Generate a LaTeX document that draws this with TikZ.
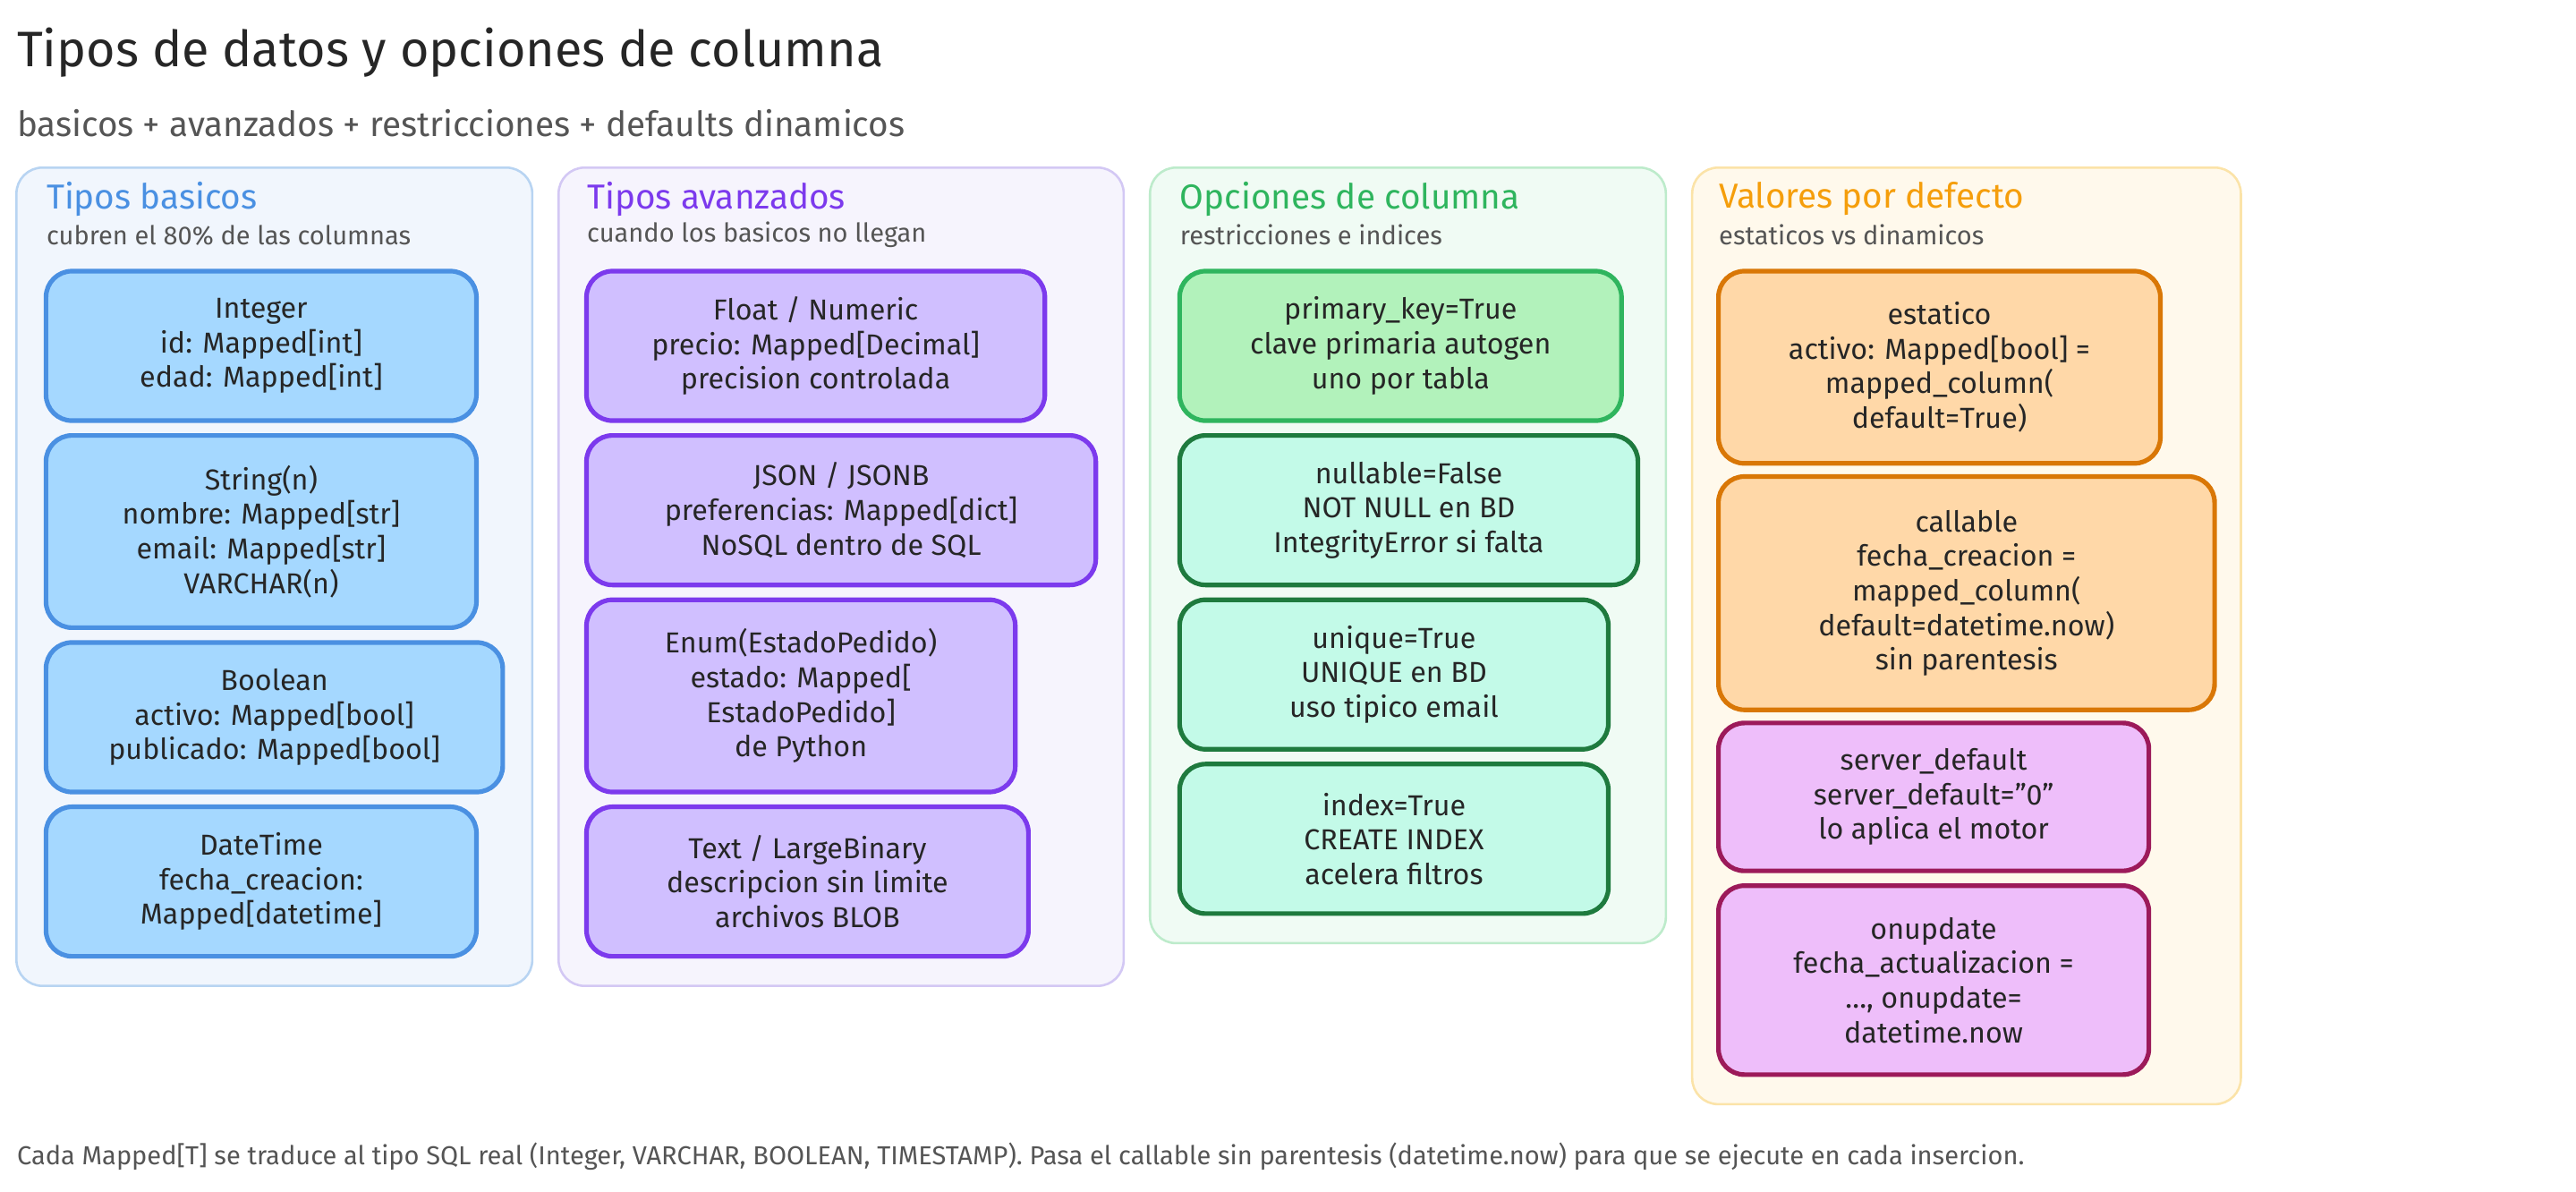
\documentclass[tikz,border=0pt]{standalone}
\usepackage{fontspec}
\setmainfont{Fira Sans}
\usetikzlibrary{positioning}
\definecolor{bluefill}{HTML}{A5D8FF}
\definecolor{blueline}{HTML}{4A90E2}
\definecolor{bluepanel}{HTML}{F1F6FD}
\definecolor{bluepanelline}{HTML}{B8D4F2}
\definecolor{purfill}{HTML}{D0BFFF}
\definecolor{purline}{HTML}{7C3AED}
\definecolor{purpanel}{HTML}{F6F4FD}
\definecolor{purpanelline}{HTML}{D3C8F4}
\definecolor{grnfill}{HTML}{B2F2BB}
\definecolor{grnline}{HTML}{2FB55E}
\definecolor{tealfill}{HTML}{C3FAE8}
\definecolor{dkgrn}{HTML}{1E7A3E}
\definecolor{grnpanel}{HTML}{F0FBF4}
\definecolor{grnpanelline}{HTML}{BDEBCB}
\definecolor{orgfill}{HTML}{FFD8A8}
\definecolor{orgline}{HTML}{D97706}
\definecolor{orgtitle}{HTML}{F59E0B}
\definecolor{orgpanel}{HTML}{FFF9EC}
\definecolor{orgpanelline}{HTML}{FBE3A8}
\definecolor{pinkfill}{HTML}{EEBEFA}
\definecolor{pinkline}{HTML}{9C1A5A}
\definecolor{txtgray}{HTML}{555555}
\tikzset{
  panel/.style={draw=#1, line width=0.8pt, rounded corners=9pt},
  card/.style 2 args={draw=#2, fill=#1, line width=1.6pt, rounded corners=9pt,
    align=center, font=\normalsize, text=black!85},
  ptitle/.style={anchor=west, inner sep=0pt, font=\large, text=#1},
  psub/.style={anchor=west, inner sep=0pt, font=\small, text=txtgray},
}
\begin{document}
\begin{tikzpicture}[x=0.02cm, y=-0.02cm]
  \useasboundingbox (0,0) rectangle (1568,725);
  % Heading
  \node[anchor=west, inner sep=0pt, font=\LARGE, text=black!85] (title) at (10,32) {Tipos de datos y opciones de columna};
  \node[anchor=west, inner sep=0pt, font=\large, text=txtgray] (subtitle) at (10,75) {basicos + avanzados + restricciones + defaults dinamicos};
  % Panels
  \draw[panel=bluepanelline, fill=bluepanel] (10,102) rectangle (324,600);
  \draw[panel=purpanelline, fill=purpanel] (340,102) rectangle (684,600);
  \draw[panel=grnpanelline, fill=grnpanel] (700,102) rectangle (1014,574);
  \draw[panel=orgpanelline, fill=orgpanel] (1030,102) rectangle (1364,672);
  % Tipos basicos
  \node[ptitle=blueline] (t1) at (28,121) {Tipos basicos};
  \node[psub] (s1) at (28,143) {cubren el 80\% de las columnas};
  \node[card={bluefill}{blueline}, minimum width=262*0.02cm, minimum height=91*0.02cm] (int) at (159,210.5) {Integer\\id: Mapped[int]\\edad: Mapped[int]};
  \node[card={bluefill}{blueline}, minimum width=262*0.02cm, minimum height=117*0.02cm] (str) at (159,323.5) {String(n)\\nombre: Mapped[str]\\email: Mapped[str]\\VARCHAR(n)};
  \node[card={bluefill}{blueline}, minimum width=278*0.02cm, minimum height=91*0.02cm] (bool) at (167,436.5) {Boolean\\activo: Mapped[bool]\\publicado: Mapped[bool]};
  \node[card={bluefill}{blueline}, minimum width=262*0.02cm, minimum height=91*0.02cm] (dt) at (159,536.5) {DateTime\\fecha\_creacion:\\Mapped[datetime]};
  % Tipos avanzados
  \node[ptitle=purline] (t2) at (357,121) {Tipos avanzados};
  \node[psub] (s2) at (357,143) {cuando los basicos no llegan};
  \node[card={purfill}{purline}, minimum width=279*0.02cm, minimum height=91*0.02cm] (flt) at (496.5,210.5) {Float / Numeric\\precio: Mapped[Decimal]\\precision controlada};
  \node[card={purfill}{purline}, minimum width=310*0.02cm, minimum height=91*0.02cm] (json) at (512,310.5) {JSON / JSONB\\preferencias: Mapped[dict]\\NoSQL dentro de SQL};
  \node[card={purfill}{purline}, minimum width=261*0.02cm, minimum height=117*0.02cm] (enum) at (487.5,423.5) {Enum(EstadoPedido)\\estado: Mapped[\\EstadoPedido]\\de Python};
  \node[card={purfill}{purline}, minimum width=269*0.02cm, minimum height=91*0.02cm] (txt) at (491.5,536.5) {Text / LargeBinary\\descripcion sin limite\\archivos BLOB};
  % Opciones de columna
  \node[ptitle=grnline] (t3) at (718,121) {Opciones de columna};
  \node[psub] (s3) at (718,143) {restricciones e indices};
  \node[card={grnfill}{grnline}, minimum width=269*0.02cm, minimum height=91*0.02cm] (pk) at (852.5,210.5) {primary\_key=True\\clave primaria autogen\\uno por tabla};
  \node[card={tealfill}{dkgrn}, minimum width=279*0.02cm, minimum height=91*0.02cm] (nul) at (857.5,310.5) {nullable=False\\NOT NULL en BD\\IntegrityError si falta};
  \node[card={tealfill}{dkgrn}, minimum width=261*0.02cm, minimum height=91*0.02cm] (uni) at (848.5,410.5) {unique=True\\UNIQUE en BD\\uso tipico email};
  \node[card={tealfill}{dkgrn}, minimum width=261*0.02cm, minimum height=91*0.02cm] (idx) at (848.5,510.5) {index=True\\CREATE INDEX\\acelera filtros};
  % Valores por defecto
  \node[ptitle=orgtitle] (t4) at (1046,121) {Valores por defecto};
  \node[psub] (s4) at (1046,143) {estaticos vs dinamicos};
  \node[card={orgfill}{orgline}, minimum width=269*0.02cm, minimum height=117*0.02cm] (est) at (1180.5,223.5) {estatico\\activo: Mapped[bool] =\\mapped\_column(\\default=True)};
  \node[card={orgfill}{orgline}, minimum width=302*0.02cm, minimum height=142*0.02cm] (cal) at (1197,361) {callable\\fecha\_creacion =\\mapped\_column(\\default=datetime.now)\\sin parentesis};
  \node[card={pinkfill}{pinkline}, minimum width=262*0.02cm, minimum height=90*0.02cm] (srv) at (1177,485) {server\_default\\server\_default=\symbol{34}0\symbol{34}\\lo aplica el motor};
  \node[card={pinkfill}{pinkline}, minimum width=262*0.02cm, minimum height=115*0.02cm] (onu) at (1177,596.5) {onupdate\\fecha\_actualizacion =\\\dots, onupdate=\\datetime.now};
  % Footer
  \node[anchor=west, inner sep=0pt, font=\small, text=txtgray] (foot) at (10,704) {Cada Mapped[T] se traduce al tipo SQL real (Integer, VARCHAR, BOOLEAN, TIMESTAMP). Pasa el callable sin parentesis (datetime.now) para que se ejecute en cada insercion.};
\end{tikzpicture}
\end{document}
